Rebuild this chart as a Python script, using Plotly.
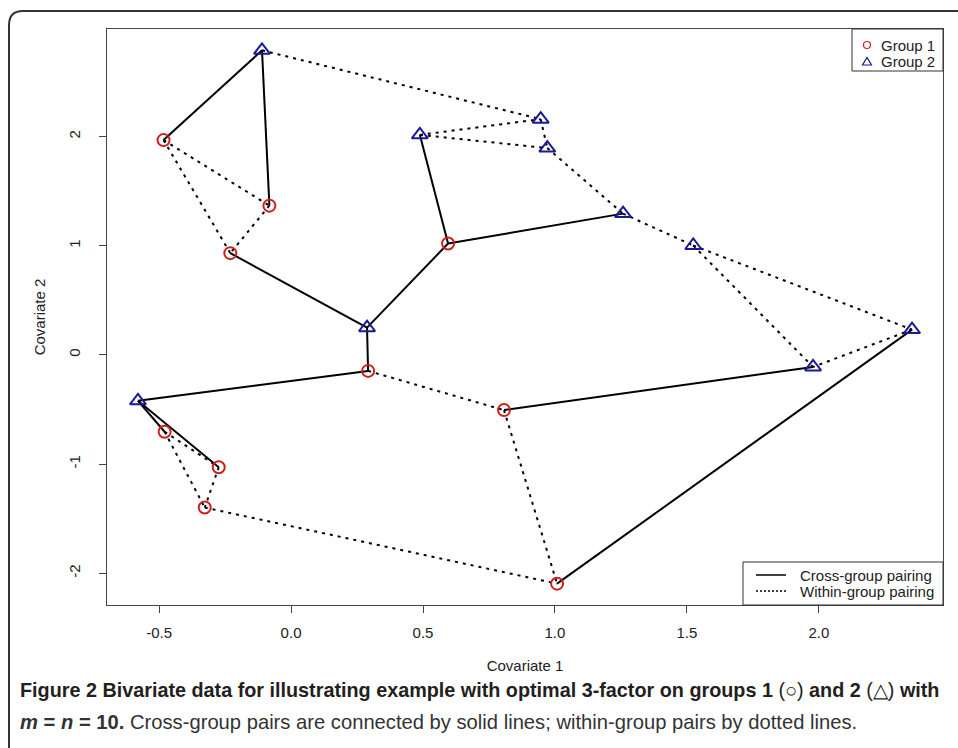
import plotly.graph_objects as go

# ---------------- data ----------------
g1_x = [-0.483, -0.082, -0.230, 0.595, 0.292, 0.807, -0.479, -0.274, -0.327, 1.008]
g1_y = [1.967, 1.367, 0.932, 1.020, -0.146, -0.505, -0.703, -1.028, -1.397, -2.094]
g2_x = [-0.110, 0.488, 0.946, 0.971, 1.258, 1.524, 0.288, 2.353, 1.978, -0.580]
g2_y = [2.789, 2.015, 2.159, 1.894, 1.294, 1.002, 0.250, 0.232, -0.110, -0.420]

# cross-group pairs: (group1 index, group2 index)
cross_pairs = [(0, 0), (1, 0), (2, 6), (4, 6), (3, 6), (3, 1), (3, 4),
               (9, 7), (5, 8), (4, 9), (6, 9), (7, 9)]
# within-group pairs
within1_pairs = [(0, 1), (0, 2), (1, 2), (4, 5), (5, 9), (8, 9), (6, 7), (6, 8), (7, 8)]
within2_pairs = [(0, 2), (1, 2), (1, 3), (2, 3), (3, 4), (4, 5), (5, 7), (5, 8), (7, 8)]

x_ticks = [-0.5, 0.0, 0.5, 1.0, 1.5, 2.0]
x_tick_labels = ["-0.5", "0.0", "0.5", "1.0", "1.5", "2.0"]
y_ticks = [-2, -1, 0, 1, 2]
y_tick_labels = ["-2", "-1", "0", "1", "2"]

legend_groups = ["Group 1", "Group 2"]
legend_lines = ["Cross-group pairing", "Within-group pairing"]

caption1 = ("<b>Figure 2 Bivariate data for illustrating example with optimal 3-factor on groups 1 </b>"
            "(○)<b> and 2 </b>(△)<b> with</b>")
caption2 = ("<b><i>m</i> = <i>n</i> = 10.</b> Cross-group pairs are connected by solid lines; "
            "within-group pairs by dotted lines.")

# ---------------- layout geometry (pixels) ----------------
W, H = 958, 748
L, R, T, B = 107, 15, 29, 143
PW, PH = W - L - R, H - T - B


def px(xp):
    return (xp - L) / PW


def py(yp):
    return (H - B - yp) / PH


FONT = "Liberation Sans, Arial, sans-serif"
TXT = "#222"
RED = "#cc2020"
BLUE = "#1a1a9a"

# ---------------- segments ----------------
sx, sy = [], []
for i, j in cross_pairs:
    sx += [g1_x[i], g2_x[j], None]
    sy += [g1_y[i], g2_y[j], None]

dx, dy = [], []
for i, j in within1_pairs:
    dx += [g1_x[i], g1_x[j], None]
    dy += [g1_y[i], g1_y[j], None]
for i, j in within2_pairs:
    dx += [g2_x[i], g2_x[j], None]
    dy += [g2_y[i], g2_y[j], None]

fig = go.Figure()
fig.add_trace(go.Scatter(x=dx, y=dy, mode="lines", showlegend=False, hoverinfo="skip",
                         line=dict(color="black", width=2, dash="3px,5px")))
fig.add_trace(go.Scatter(x=sx, y=sy, mode="lines", showlegend=False, hoverinfo="skip",
                         line=dict(color="black", width=2)))
fig.add_trace(go.Scatter(x=g1_x, y=g1_y, mode="markers", name=legend_groups[0], showlegend=False,
                         marker=dict(symbol="circle-open", size=12, color=RED,
                                     line=dict(width=2, color=RED))))
fig.add_trace(go.Scatter(x=g2_x, y=g2_y, mode="markers", name=legend_groups[1], showlegend=False,
                         marker=dict(symbol="triangle-up-open", size=14, color=BLUE,
                                     line=dict(width=2, color=BLUE))))

all_x = g1_x + g2_x
all_y = g1_y + g2_y
xs = max(all_x) - min(all_x)
ys = max(all_y) - min(all_y)
xr = [min(all_x) - 0.04 * xs, max(all_x) + 0.04 * xs]
yr = [min(all_y) - 0.04 * ys, max(all_y) + 0.04 * ys]

axis_common = dict(showgrid=False, zeroline=False, showline=True, mirror=True,
                   linecolor="#444", linewidth=1, ticks="outside", ticklen=7,
                   tickcolor="#444", tickwidth=1,
                   tickfont=dict(family=FONT, size=15, color=TXT))

# ---------------- legend boxes (drawn as layout decorations) ----------------
shapes = [
    # outer figure frame with rounded top-left corner
    dict(type="path", xref="paper", yref="paper",
         path=(f"M {px(9)},{py(760)} L {px(9)},{py(25)} "
               f"Q {px(9)},{py(11)} {px(23)},{py(11)} L {px(975)},{py(11)}"),
         line=dict(color="#333", width=2)),
    # top-right legend box
    dict(type="rect", xref="paper", yref="paper", x0=px(852), x1=px(943), y0=py(71), y1=py(29),
         line=dict(color="#333", width=1), fillcolor="white"),
    dict(type="circle", xref="paper", yref="paper", x0=px(863.5), x1=px(870.5), y0=py(48.5), y1=py(41.5),
         line=dict(color=RED, width=1.2)),
    dict(type="path", xref="paper", yref="paper",
         path=f"M {px(862.5)},{py(65)} L {px(871.5)},{py(65)} L {px(867)},{py(57.5)} Z",
         line=dict(color=BLUE, width=1.2)),
    # bottom-right legend box
    dict(type="rect", xref="paper", yref="paper", x0=px(743), x1=px(943), y0=py(605), y1=py(562),
         line=dict(color="#333", width=1), fillcolor="white"),
    dict(type="line", xref="paper", yref="paper", x0=px(756), x1=px(786), y0=py(575), y1=py(575),
         line=dict(color="black", width=1.5)),
    dict(type="line", xref="paper", yref="paper", x0=px(756), x1=px(786), y0=py(591), y1=py(591),
         line=dict(color="black", width=1.5, dash="2px,2px")),
]

annotations = [
    dict(text=legend_groups[0], xref="paper", yref="paper", x=px(879), y=py(45),
         xanchor="left", yanchor="middle", showarrow=False, font=dict(family=FONT, size=15, color=TXT)),
    dict(text=legend_groups[1], xref="paper", yref="paper", x=px(879), y=py(62),
         xanchor="left", yanchor="middle", showarrow=False, font=dict(family=FONT, size=15, color=TXT)),
    dict(text=legend_lines[0], xref="paper", yref="paper", x=px(798), y=py(575),
         xanchor="left", yanchor="middle", showarrow=False, font=dict(family=FONT, size=15, color=TXT)),
    dict(text=legend_lines[1], xref="paper", yref="paper", x=px(798), y=py(591),
         xanchor="left", yanchor="middle", showarrow=False, font=dict(family=FONT, size=15, color=TXT)),
    dict(text=caption1, xref="paper", yref="paper", x=px(18), y=py(690),
         xanchor="left", yanchor="middle", showarrow=False, align="left",
         font=dict(family=FONT, size=19.8, color="#231f20")),
    dict(text=caption2, xref="paper", yref="paper", x=px(18), y=py(722),
         xanchor="left", yanchor="middle", showarrow=False, align="left",
         font=dict(family=FONT, size=20.2, color="#333")),
]

fig.update_layout(
    width=W, height=H,
    margin=dict(l=L, r=R, t=T, b=B, autoexpand=False),
    paper_bgcolor="white", plot_bgcolor="white",
    showlegend=False,
    xaxis=dict(range=xr, tickvals=x_ticks, ticktext=x_tick_labels, ticklabelstandoff=7,
               title=dict(text="Covariate 1", font=dict(family=FONT, size=15, color=TXT), standoff=20),
               **axis_common),
    yaxis=dict(range=yr, tickvals=y_ticks, ticktext=y_tick_labels, tickangle=-90, ticklabelstandoff=13,
               title=dict(text="Covariate 2", font=dict(family=FONT, size=15, color=TXT), standoff=16),
               **axis_common),
    shapes=shapes,
    annotations=annotations,
)

fig.write_html("out.html")
